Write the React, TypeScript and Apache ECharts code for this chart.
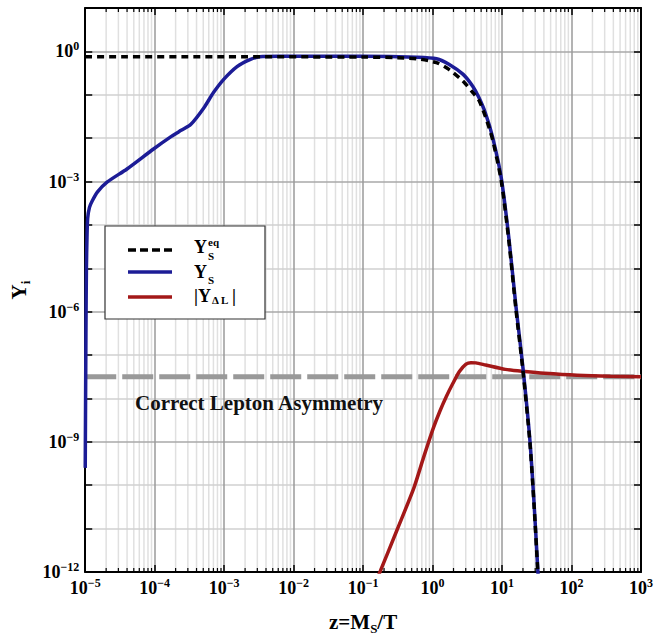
import React, { useEffect, useRef } from 'react';
import * as echarts from 'echarts';

const FONT = '"Liberation Serif", "Times New Roman", serif';

// Axis extents (exponents of ten)
const X_MIN_EXP = -5;
const X_MAX_EXP = 3;
const Y_MIN_EXP = -12;
const Y_MAX_EXP = 1;
const Y_LABEL_STEP = 3;
const minorMultipliers = [2, 3, 4, 5, 6, 7, 8, 9];

// Y_S^eq (black dashed): log10 z, log10 Y
const eqLogZ = [-5, -3, -1, -0.5, -0.226, 0.057, 0.24, 0.44, 0.58, 0.665, 0.76, 0.863, 0.99, 1.1, 1.2, 1.3, 1.4, 1.46, 1.513, 1.57];
const eqLogY = [-0.125, -0.125, -0.13, -0.145, -0.17, -0.26, -0.42, -0.69, -0.95, -1.12, -1.5, -2.03, -3.0, -4.4, -5.95, -7.35, -9.0, -10.45, -11.95, -13.6];

// Y_S (blue)
const sLogZ = [-5, -4.99, -4.983, -4.975, -4.965, -4.94, -4.9, -4.823, -4.682, -4.399, -4.017, -3.76, -3.62, -3.479, -3.296, -3.154, -3.01, -2.815, -2.63, -2.49, -2.2, -1, -0.226, 0.057, 0.24, 0.44, 0.58, 0.665, 0.76, 0.863, 0.99, 1.1, 1.2, 1.3, 1.4, 1.46, 1.513, 1.57];
const sLogY = [-9.6, -6.5, -5.0, -4.3, -3.85, -3.6, -3.45, -3.24, -3.01, -2.71, -2.25, -1.96, -1.82, -1.68, -1.31, -0.95, -0.65, -0.35, -0.19, -0.125, -0.115, -0.115, -0.135, -0.17, -0.3, -0.53, -0.81, -1.06, -1.42, -1.97, -2.93, -4.33, -5.88, -7.28, -8.95, -10.4, -11.9, -13.6];

// |Y_ΔL| (red)
const dlLogZ = [-0.85, -0.75, -0.509, -0.269, -0.132, 0.009, 0.103, 0.198, 0.293, 0.386, 0.481, 0.552, 0.623, 0.764, 1.047, 1.33, 1.613, 2.079, 2.56, 3.0];
const dlLogY = [-12.35, -11.97, -11.02, -10.06, -9.37, -8.69, -8.3, -7.955, -7.65, -7.38, -7.21, -7.175, -7.18, -7.23, -7.33, -7.38, -7.42, -7.465, -7.49, -7.5];

// Correct lepton asymmetry (grey dashed)
const asymLogZ = [-5, 3];
const asymLogY = [-7.5, -7.5];

const BLUE = '#1c1c96';
const RED = '#a31818';

const pairs = (xs: number[], ys: number[]) => xs.map((x, i) => [x, ys[i]]);

const supLabel = (v: number) => `{b|10}{s|${v < 0 ? '\u2212' + Math.abs(v) : String(v)}}`;

const labelRich = {
  b: { fontFamily: FONT, fontWeight: 'bold', fontSize: 18, color: '#000', lineHeight: 22 },
  s: { fontFamily: FONT, fontWeight: 'bold', fontSize: 12, color: '#000', verticalAlign: 'top', lineHeight: 14 },
};

const nameRich = {
  b: { fontFamily: FONT, fontWeight: 'bold', fontSize: 21, color: '#000', lineHeight: 26 },
  s: { fontFamily: FONT, fontWeight: 'bold', fontSize: 13, color: '#000', verticalAlign: 'bottom', lineHeight: 18 },
};

const minorPositions: number[] = [];
for (let d = X_MIN_EXP; d < X_MAX_EXP; d++) {
  for (const m of minorMultipliers) minorPositions.push(d + Math.log10(m));
}

const txt = (x: number, y: number, text: string, size: number, fill = '#000') => ({
  type: 'text',
  x,
  y,
  z: 12,
  style: {
    text,
    font: `bold ${size}px ${FONT}`,
    fill,
    align: 'left',
    verticalAlign: 'middle',
    textAlign: 'left',
    textVerticalAlign: 'middle',
  },
});

export default function App() {
  const ref = useRef<HTMLDivElement>(null);
  useEffect(() => {
    if (!ref.current) return;
    const chart = echarts.init(ref.current, undefined, { renderer: 'svg' });
    const axisLine = { show: true, onZero: false, lineStyle: { color: '#000', width: 2 } };
    const axisTick = { show: true, inside: true, length: 7, lineStyle: { color: '#000', width: 1.5 } };
    const lineCommon = { showSymbol: false, smooth: 0.25, silent: true };
    const option: any = {
      animation: false,
      backgroundColor: '#fff',
      grid: { left: 83, right: 8, top: 8, bottom: 66, containLabel: false },
      xAxis: [
        {
          type: 'value', min: X_MIN_EXP, max: X_MAX_EXP, interval: 1, position: 'bottom',
          axisLine, axisTick,
          axisLabel: { margin: 5, formatter: (v: number) => supLabel(v), rich: labelRich },
          splitLine: { show: true, lineStyle: { color: '#9a9a9a', width: 1.5 } },
          name: '{b|z=M}{s|S}{b|/T}', nameLocation: 'middle', nameGap: 37,
          nameTextStyle: { rich: nameRich },
        },
        {
          type: 'value', min: X_MIN_EXP, max: X_MAX_EXP, interval: 1, position: 'top',
          axisLine, axisTick, axisLabel: { show: false }, splitLine: { show: false },
        },
      ],
      yAxis: [
        {
          type: 'value', min: Y_MIN_EXP, max: Y_MAX_EXP, interval: 1, position: 'left',
          axisLine, axisTick,
          axisLabel: {
            margin: 6,
            formatter: (v: number) => (v % Y_LABEL_STEP === 0 && v <= 0 ? supLabel(v) : ''),
            rich: labelRich,
          },
          splitLine: { show: true, lineStyle: { color: ['#a8a8a8', '#d0d0d0', '#d0d0d0'], width: 1.5 } },
          name: '{b|Y}{s|i}', nameLocation: 'middle', nameRotate: 90, nameGap: 44,
          nameTextStyle: { rich: nameRich },
        },
        {
          type: 'value', min: Y_MIN_EXP, max: Y_MAX_EXP, interval: 1, position: 'right',
          axisLine, axisTick, axisLabel: { show: false }, splitLine: { show: false },
        },
      ],
      series: [
        {
          type: 'custom',
          name: 'minor grid',
          xAxisIndex: 0,
          yAxisIndex: 0,
          z: 0,
          silent: true,
          data: minorPositions.map((v) => [v, Y_MIN_EXP]),
          renderItem: (_params: any, api: any) => {
            const x = api.value(0);
            const top = api.coord([x, Y_MAX_EXP]);
            const bot = api.coord([x, Y_MIN_EXP]);
            return {
              type: 'group',
              children: [
                { type: 'line', z2: -10, shape: { x1: top[0], y1: top[1], x2: bot[0], y2: bot[1] }, style: { stroke: '#e0e0e0', lineWidth: 1.5 } },
                { type: 'line', shape: { x1: bot[0], y1: bot[1], x2: bot[0], y2: bot[1] - 4 }, style: { stroke: '#000', lineWidth: 1.2 } },
                { type: 'line', shape: { x1: top[0], y1: top[1], x2: top[0], y2: top[1] + 4 }, style: { stroke: '#000', lineWidth: 1.2 } },
              ],
            };
          },
        },
        {
          type: 'line', name: 'Correct Lepton Asymmetry', data: pairs(asymLogZ, asymLogY),
          showSymbol: false, silent: true,
          lineStyle: { color: '#999999', width: 5, type: [31, 6] },
        },
        {
          type: 'line', name: '|Y_ΔL|', data: pairs(dlLogZ, dlLogY), ...lineCommon,
          lineStyle: { color: RED, width: 3.5 },
        },
        {
          type: 'line', name: 'Y_S', data: pairs(sLogZ, sLogY), ...lineCommon,
          lineStyle: { color: BLUE, width: 3.5 },
        },
        {
          type: 'line', name: 'Y_S^eq', data: pairs(eqLogZ, eqLogY), ...lineCommon,
          lineStyle: { color: '#000', width: 3.5, type: [7, 5] },
        },
      ],
      graphic: [
        { type: 'rect', z: 10, shape: { x: 105, y: 226, width: 160, height: 93 }, style: { fill: '#fff', stroke: '#333', lineWidth: 1.2 } },
        { type: 'line', z: 11, shape: { x1: 128, y1: 250, x2: 172, y2: 250 }, style: { stroke: '#000', lineWidth: 3.5, lineDash: [8, 4] } },
        { type: 'line', z: 11, shape: { x1: 128, y1: 272, x2: 172, y2: 272 }, style: { stroke: BLUE, lineWidth: 3.5 } },
        { type: 'line', z: 11, shape: { x1: 128, y1: 297, x2: 172, y2: 297 }, style: { stroke: RED, lineWidth: 3.5 } },
        txt(194, 246.5, 'Y', 18),
        txt(208, 242, 'eq', 11),
        txt(208, 256, 'S', 11),
        txt(194, 271.5, 'Y', 18),
        txt(208, 280, 'S', 11),
        txt(194, 296, '|', 18),
        txt(198, 296, 'Y', 18),
        txt(212, 300, 'Δ L', 11),
        txt(232, 296, '|', 18),
        txt(135, 403, 'Correct Lepton Asymmetry', 21, '#111'),
      ],
    };
    chart.setOption(option);
    return () => chart.dispose();
  }, []);
  return (
    <div
      ref={ref}
      style={{ position: 'absolute', left: 0, top: 0, width: 656, height: 640, background: '#fff' }}
    />
  );
}
